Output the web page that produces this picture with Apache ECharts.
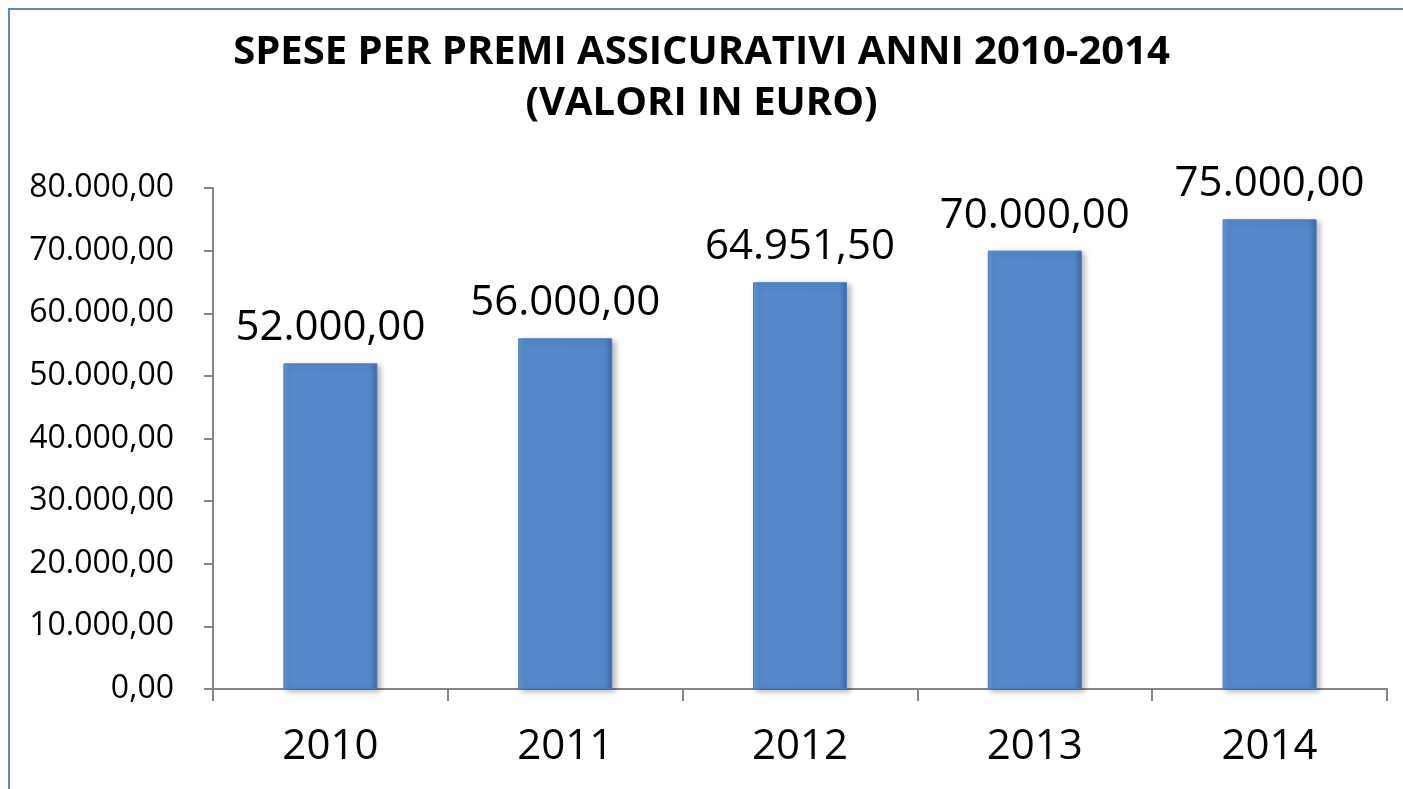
<!DOCTYPE html>
<html>
<head>
<meta charset="utf-8">
<script src="https://cdn.jsdelivr.net/npm/echarts@6/dist/echarts.min.js"></script>
<style>
  html, body { margin: 0; padding: 0; background: #fff; }
  #chart { width: 1403px; height: 789px; }
  .frame { position: absolute; left: 8px; top: 8px; width: 1500px; height: 900px;
           border-left: 2px solid #5b86c0; border-top: 2px solid #5b86c0; pointer-events: none; }
</style>
</head>
<body>
<div id="chart"></div>
<div class="frame"></div>
<script>
// dati del grafico
var anni = ['2010', '2011', '2012', '2013', '2014'];
var spese = [52000, 56000, 64951.5, 70000, 75000];
var titolo = 'SPESE PER PREMI ASSICURATIVI ANNI 2010-2014\n(VALORI IN EURO)';

// formato italiano 52.000,00
function fmt(v) {
  var parts = Number(v).toFixed(2).split('.');
  parts[0] = parts[0].replace(/\B(?=(\d{3})+(?!\d))/g, '.');
  return parts[0] + ',' + parts[1];
}

var font = 'Open Sans, DejaVu Sans, sans-serif';
var chart = echarts.init(document.getElementById('chart'));

chart.setOption({
  animation: false,
  title: {
    text: titolo,
    left: 'center',
    top: 22,
    textStyle: { fontFamily: font, fontWeight: 'bold', fontSize: 40, lineHeight: 51, color: '#000' }
  },
  grid: { left: 213, right: 16, top: 188, bottom: 100 },
  xAxis: {
    type: 'category',
    data: anni,
    axisLine: { lineStyle: { color: '#868686', width: 2 } },
    axisTick: { show: true, length: 12, lineStyle: { color: '#868686', width: 2 } },
    axisLabel: { fontFamily: font, fontSize: 42, color: '#000', margin: 37 }
  },
  yAxis: {
    type: 'value',
    min: 0,
    max: 80000,
    interval: 10000,
    axisLine: { show: true, lineStyle: { color: '#868686', width: 2 } },
    axisTick: { show: true, length: 9, lineStyle: { color: '#868686', width: 2 } },
    splitLine: { show: false },
    axisLabel: { fontFamily: font, fontSize: 32, color: '#000', margin: 39, formatter: fmt }
  },
  series: [{
    type: 'bar',
    data: spese,
    barWidth: 94,
    itemStyle: {
      color: {
        type: 'linear', x: 0, y: 0, x2: 1, y2: 0,
        colorStops: [
          { offset: 0, color: '#6b9ad6' },
          { offset: 0.06, color: '#5689cb' },
          { offset: 0.92, color: '#5487c9' },
          { offset: 1, color: '#3d6aa5' }
        ]
      },
      borderColor: '#4a7cbd',
      borderWidth: 1,
      shadowColor: 'rgba(0,0,0,0.3)',
      shadowBlur: 6,
      shadowOffsetX: 3,
      shadowOffsetY: 2
    },
    label: {
      show: true,
      position: 'top',
      distance: 14,
      fontFamily: font,
      fontSize: 42,
      color: '#000',
      formatter: function (p) { return fmt(p.value); }
    }
  }]
});
</script>
</body>
</html>
